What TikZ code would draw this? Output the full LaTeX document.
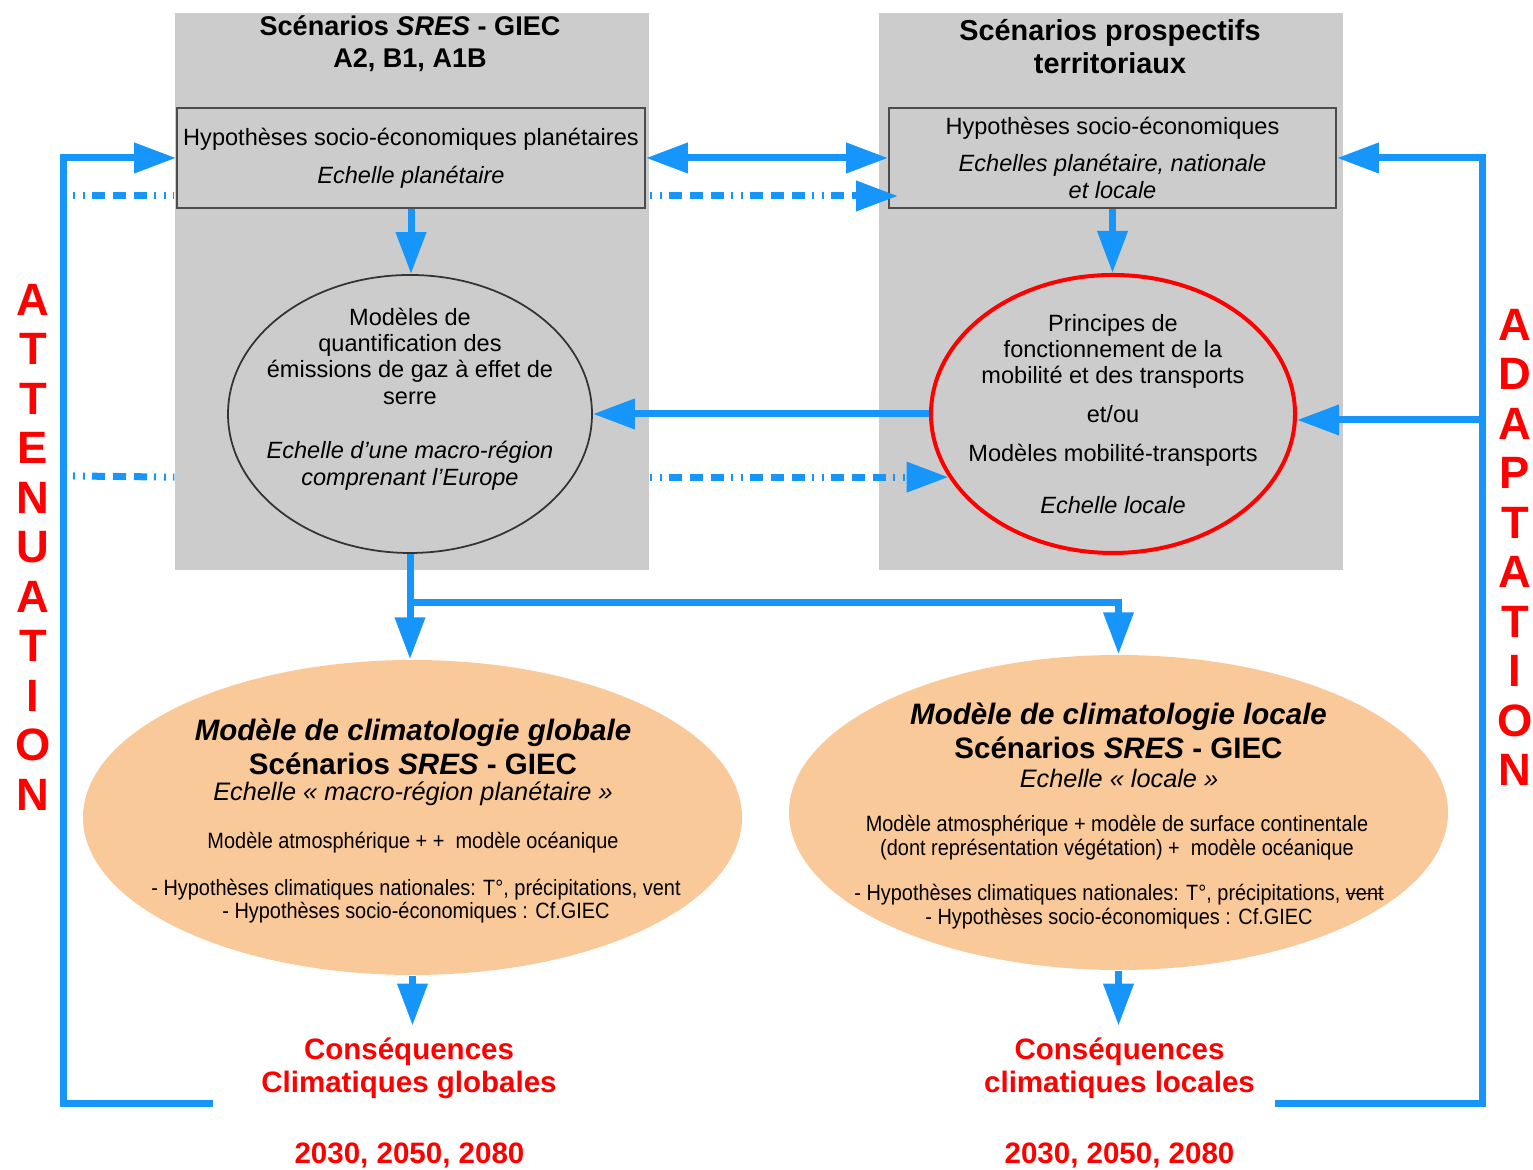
\documentclass[tikz,border=0pt]{standalone}
\usepackage{fontspec}
\setmainfont{Liberation Sans}
\newfontfamily\narrowfont{Liberation Sans}[FakeStretch=0.9]
\usepackage{xcolor}
\usetikzlibrary{arrows.meta,positioning,shapes.geometric}
\definecolor{cgblue}{RGB}{22,150,250}
\definecolor{cggray}{RGB}{204,204,204}
\definecolor{cgpeach}{RGB}{250,201,153}
\definecolor{cgred}{RGB}{255,0,0}
\newcommand{\fstitle}{\fontsize{7.7}{9.1}\selectfont\bfseries}
\newcommand{\fstitler}{\fontsize{8.2}{9.4}\selectfont\bfseries}
\newcommand{\fsbox}{\fontsize{6.7}{7.5}\selectfont}
\newcommand{\fsbig}{\fontsize{8.4}{9.7}\selectfont\bfseries}
\newcommand{\fsechl}{\fontsize{7.2}{8.5}\selectfont\itshape}
\newcommand{\fssmall}{\fontsize{6.3}{6.7}\selectfont\narrowfont}
\newcommand{\fscons}{\fontsize{8.4}{9.4}\selectfont\bfseries}
\newcommand{\fsvert}{\fontsize{12.9}{14.08}\selectfont\bfseries}
\newcommand{\strk}[1]{\setbox0\hbox{#1}\rlap{\rule[0.3em]{\wd0}{0.4pt}}#1}

\begin{document}
\begin{tikzpicture}[
  panel/.style={rectangle,fill=cggray,inner sep=0pt,minimum height=5.57cm},
  hyp/.style={rectangle,draw=black!70,line width=0.5pt,fill=cggray,inner sep=0pt,
    minimum height=1.00cm,align=center,font=\fsbox},
  model/.style={ellipse,fill=cggray,inner sep=0pt,minimum width=3.64cm,minimum height=2.78cm},
  clim/.style={ellipse,fill=cgpeach,inner sep=0pt,minimum width=6.59cm,minimum height=3.15cm},
  txt/.style={align=center,font=\fsbox,inner sep=0pt},
  cons/.style={align=center,font=\fscons,text=cgred},
  vert/.style={align=center,font=\fsvert,text=cgred},
  tip/.style={-{Triangle[length=0.42cm,width=0.29cm]}},
  arr/.style={tip,line width=0.07cm,cgblue},
  darr/.style={arr,{Triangle[length=0.42cm,width=0.29cm]}-{Triangle[length=0.42cm,width=0.29cm]}},
  dashdotline/.style={line width=0.07cm,cgblue,
    dash pattern=on 0.02cm off 0.08cm on 0.02cm off 0.07cm on 0.13cm off 0.08cm on 0.13cm off 0.08cm on 0.13cm off 0.07cm}
]
  \useasboundingbox (0,0) rectangle (15.33,11.70);

  % scenario panels
  \node[panel,minimum width=4.74cm] (pl) at (4.12,8.785) {};
  \node[panel,minimum width=4.64cm] (pr) at (11.11,8.785) {};
  \node[align=center,font=\fstitle] (tl) at (4.10,11.26) {Scénarios \textit{SRES} - GIEC\\A2, B1, A1B};
  \node[align=center,font=\fstitler] (tr) at (11.10,11.235) {Scénarios prospectifs\\territoriaux};

  \node[hyp,minimum width=4.68cm] (hl) at (4.11,10.12) {Hypothèses socio-économiques planétaires\\[3.3pt]\textit{Echelle planétaire}};
  \node[hyp,minimum width=4.47cm] (hr) at (11.125,10.12) {Hypothèses socio-économiques\\[3pt]\textit{Echelles planétaire, nationale}\\\textit{et locale}};

  \node[model,draw=black!80,line width=0.5pt] (gem) at (4.10,7.56) {};
  \node[model,draw=cgred,line width=0.04cm] (rem) at (11.13,7.56) {};
  \node[txt] (gemt) at (4.10,7.71) {Modèles de\\quantification des\\émissions de gaz à effet de\\serre\\[8pt]\textit{Echelle d'une macro-région}\\\textit{comprenant l'Europe}};
  \node[txt] (remt) at (11.13,7.56) {Principes de\\fonctionnement de la\\mobilité et des transports\\[3.4pt]et/ou\\[3.7pt]Modèles mobilité-transports\\[7.4pt]\textit{Echelle locale}};

  % climate models
  \node[clim] (oeg) at (4.125,3.525) {};
  \node[clim] (oel) at (11.185,3.575) {};
  \node[txt,font=\fsbig] (oegt) at (4.13,4.23) {\textit{Modèle de climatologie globale}\\Scénarios \textit{SRES} - GIEC};
  \node[txt,font=\fsechl] (oege) at (4.13,3.76) {Echelle «~macro-région planétaire~»};
  \node[txt,font=\fssmall] (oega) at (4.13,3.27) {Modèle atmosphérique + +~ modèle océanique};
  \node[txt,font=\fssmall] (oegh) at (4.16,2.69) {- Hypothèses climatiques nationales: T°, précipitations, vent\\- Hypothèses socio-économiques : Cf.GIEC};
  \node[txt,font=\fsbig] (oelt) at (11.185,4.39) {\textit{Modèle de climatologie locale}\\Scénarios \textit{SRES} - GIEC};
  \node[txt,font=\fsechl] (oele) at (11.19,3.92) {Echelle «~locale~»};
  \node[txt,font=\fssmall] (oela) at (11.17,3.325) {Modèle atmosphérique + modèle de surface continentale\\(dont représentation végétation) +~ modèle océanique};
  \node[txt,font=\fssmall] (oelh) at (11.19,2.635) {- Hypothèses climatiques nationales: T°, précipitations, \strk{vent}\\- Hypothèses socio-économiques : Cf.GIEC};

  % consequences
  \node[cons] (csg) at (4.09,1.015) {Conséquences\\Climatiques globales};
  \node[cons] (yrg) at (4.095,0.15) {2030, 2050, 2080};
  \node[cons] (csl) at (11.195,1.015) {Conséquences\\climatiques locales};
  \node[cons] (yrl) at (11.195,0.15) {2030, 2050, 2080};

  \node[vert] (att) at (0.33,6.23) {A\\T\\T\\E\\N\\U\\A\\T\\I\\O\\N};
  \node[vert] (ada) at (15.15,6.225) {A\\D\\A\\P\\T\\A\\T\\I\\O\\N};

  % connectors
  \coordinate (lg) at (2.13,0.66);
  \coordinate (lr) at (12.75,0.66);
  \coordinate (ab) at (14.82,7.50);
  \coordinate (br) at (4.10,5.67);
  \coordinate (dte) at (8.98,9.74);
  \draw[arr] (lg) -- (0.63,0.66) |- (hl.west);
  \draw[arr] (lr) -- (14.82,0.66) |- (hr.east);
  \draw[arr] (ab) -- (rem.east |- ab);
  \draw[darr] (hl.east) -- (hr.west);
  \draw[arr] (hl.south) -- (hl.south |- gem.north);
  \draw[arr] (hr.south) -- (hr.south |- rem.north);
  \draw[arr] (rem.west) -- (gem.east);
  \draw[arr] (gem.south) -- (gem.south |- oeg.north);
  \draw[arr] (br) -| (oel.north);
  \draw[arr] (oeg.south) -- (oeg.south |- csg.north);
  \draw[arr] (oel.south) -- (oel.south |- csl.north);

  \draw[dashdotline] (0.73,9.74) -- (pl.west |- dte);
  \draw[dashdotline,tip] (pl.east |- dte) -- (dte);
  \draw[dashdotline] (0.73,6.94) -- (pl.west |- rem.201);
  \draw[dashdotline,tip] (pl.east |- rem.201) -- (rem.201);
\end{tikzpicture}
\end{document}
